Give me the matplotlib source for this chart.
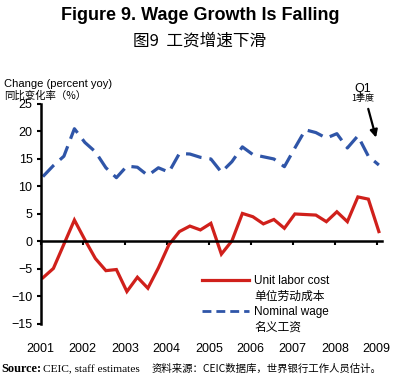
import numpy as np
import matplotlib.pyplot as plt
from matplotlib.lines import Line2D

# 季度数据 2001Q1 - 2009Q1
quarters = 2001 + 0.25 * np.arange(33) + 0.05
unit_labor_cost = [-6.6, -4.9, -0.5, 3.9, 0.3, -3.1, -5.3, -5.1, -9.1, -6.5, -8.5,
                   -4.8, -0.6, 1.8, 2.8, 2.1, 3.3, -2.3, 0.1, 5.1, 4.5, 3.2,
                   4.0, 2.4, 5.0, 4.9, 4.8, 3.6, 5.4, 3.6, 8.1, 7.7, 1.8]
nominal_wage = [11.8, 13.8, 15.5, 20.5, 18.0, 16.3, 13.4, 11.6, 13.7, 13.5, 12.0,
                13.4, 12.6, 16.0, 15.9, 15.3, 15.0, 12.6, 14.5, 17.2, 15.8, 15.4,
                15.0, 13.6, 17.0, 20.3, 19.8, 18.8, 19.6, 17.0, 19.2, 15.5, 13.9]
years = list(range(2001, 2010))
yticks = [25, 20, 15, 10, 5, 0, -5, -10, -15]

EN = ['Liberation Sans', 'Noto Sans CJK SC']
CN = ['Noto Sans CJK SC', 'Liberation Sans']
plt.rcParams['font.family'] = EN

red = '#d0201b'
blue = '#2f55a8'

fig = plt.figure(figsize=(4, 3.8), dpi=100)
ax = fig.add_axes([0.102, 0.1474, 0.8525, 0.579])

ln1, = ax.plot(quarters, unit_labor_cost, color=red, lw=2.3, solid_joinstyle='miter')
ln2, = ax.plot(quarters, nominal_wage, color=blue, lw=2.3, dashes=(5, 2.5))

ax.set_xlim(2001, 2009.12)
ax.set_ylim(-15, 25)
ax.set_yticks(yticks)
ax.set_xticks(years)
ax.set_xticklabels([str(y) for y in years])

for s in ['top', 'right']:
    ax.spines[s].set_visible(False)
ax.spines['bottom'].set_position(('data', 0))
ax.spines['bottom'].set_linewidth(1.8)
ax.spines['left'].set_linewidth(1.8)
ax.tick_params(axis='y', direction='out', length=3, width=1.5, labelsize=9, pad=3)
ax.tick_params(axis='x', direction='out', length=3, width=1.5, labelsize=9, pad=70)

# 图例：英文一行，中文一行
blank = Line2D([], [], color='none')
h_red = Line2D([], [], color=red, lw=2.3)
h_blue = Line2D([], [], color=blue, lw=2.0, dashes=(3.2, 1.8))
leg = ax.legend([h_red, blank, h_blue, blank],
                ['Unit labor cost', '单位劳动成本', 'Nominal wage', '名义工资'],
                loc='upper left', bbox_to_anchor=(0.458, 0.245), frameon=False,
                fontsize=8.5, handlelength=4.0, labelspacing=0.25,
                handletextpad=0.45, borderaxespad=0)
for t in leg.get_texts():
    t.set_family(EN if t.get_text()[0].isascii() else CN)

# 标注 Q1
ax.annotate('', xy=(2009.0, 18.4), xytext=(2008.78, 24.6),
            arrowprops=dict(arrowstyle='-|>', color='black', lw=1.6,
                            mutation_scale=11))
ax.text(2008.66, 27.8, 'Q1', fontsize=9, ha='center', va='center')
ax.text(2008.67, 26.0, '1季度', fontsize=6.5, ha='center', va='center', family=CN)

fig.text(0.5, 0.958, 'Figure 9. Wage Growth Is Falling', ha='center', va='center',
         fontsize=13, fontweight='bold')
fig.text(0.5, 0.893, '图9  工资增速下滑', ha='center', va='center',
         fontsize=12, family=CN)
fig.text(0.01, 0.778, 'Change (percent yoy)', ha='left', va='center', fontsize=8)
fig.text(0.01, 0.748, '同比变化率（%）', ha='left', va='center', fontsize=7.5,
         family=CN)

fig.text(0.004, 0.028, 'Source:', ha='left', va='center', fontsize=8.8,
         fontweight='bold', family='Liberation Serif')
fig.text(0.108, 0.028, 'CEIC, staff estimates', ha='left', va='center', fontsize=8.2,
         family='Liberation Serif')
fig.text(0.38, 0.028, '资料来源：CEIC数据库，世界银行工作人员估计。', ha='left', va='center',
         fontsize=7.5, family=CN)

fig.savefig('out.png', dpi=100)
